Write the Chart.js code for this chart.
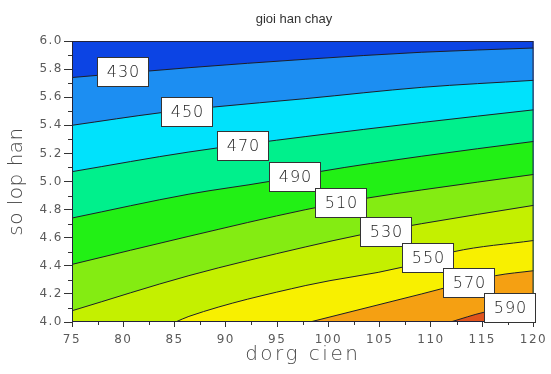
<!DOCTYPE html>
<html>
<head>
<meta charset="utf-8">
<title>gioi han chay</title>
<script src="https://cdn.jsdelivr.net/npm/chart.js@4.4.1/dist/chart.umd.min.js"></script>
<style>
  html, body { margin: 0; padding: 0; background: #fff; }
  #wrap { width: 551px; height: 374px; position: relative; }
</style>
</head>
<body>
<div id="wrap"><canvas id="chart"></canvas></div>
<script>
// ---------- data ----------
const levels = [430, 450, 470, 490, 510, 530, 550, 570, 590];

// contour lines, points as [dong dien, so lop han]
const c430 = [[75, 5.74], [86.4, 5.81], [97.8, 5.87], [109.1, 5.92], [120, 5.95]];
const c450 = [[75, 5.40], [83.7, 5.49], [88.8, 5.53], [97.8, 5.59], [109.1, 5.67], [120, 5.72]];
const c470 = [[75, 5.07], [86.4, 5.21], [97.8, 5.32], [109.1, 5.42], [120, 5.51]];
const c490 = [[75, 4.74], [86.4, 4.91], [94.2, 5.00], [99.1, 5.07], [109.1, 5.18], [120, 5.285]];
const c510 = [[75, 4.41], [86.4, 4.61], [97.8, 4.80], [103.6, 4.88], [109.1, 4.94], [120, 5.05]];
const c530 = [[75, 4.08], [86.4, 4.33], [97.8, 4.535], [103.1, 4.62], [109.1, 4.70], [120, 4.83]];
const c550 = [[85.1, 4.0], [86.4, 4.04], [97.8, 4.26], [107.2, 4.39], [112.2, 4.50], [120, 4.58]];
const c570 = [[98.2, 4.0], [109.1, 4.20], [116.3, 4.33], [120, 4.365]];
const c590 = [[111.9, 4.0], [115.2, 4.07], [120, 4.13]];
const contourLines = [c430, c450, c470, c490, c510, c530, c550, c570, c590];

// where the level labels sit
const labelX = [80.0, 86.2, 91.7, 96.7, 101.2, 105.6, 109.7, 113.7, 117.7];
const labelY = [5.777, 5.493, 5.255, 5.035, 4.846, 4.642, 4.455, 4.277, 4.10];

// minor tick positions
const xMinor = [77.5, 82.5, 87.5, 92.5, 97.5, 102.5, 107.5, 112.5, 117.5];
const yMinor = [4.1, 4.3, 4.5, 4.7, 4.9, 5.1, 5.3, 5.5, 5.7, 5.9];

// ---------- colours ----------
const topColor = '#0c44e4';            // band above 430
const bandColors = [                    // band under each line
  '#1c8ef2', '#00e2fc', '#00f08c', '#22f015', '#84ec12',
  '#c4f000', '#f8f000', '#f5a012', '#e0541c'
];

const datasets = contourLines.map((pts, i) => ({
  label: String(levels[i]),
  data: pts.map(p => ({ x: p[0], y: p[1] })),
  borderColor: '#1e1e28',
  borderWidth: 1,
  backgroundColor: bandColors[i],
  fill: 'start',
  pointRadius: 0,
  cubicInterpolationMode: 'monotone',
  order: contourLines.length - i
}));

// ---------- plugins ----------
const contourDecor = {
  id: 'contourDecor',
  beforeDraw(chart) {
    chart.ctx.letterSpacing = '1.5px';   // wide tick labels like the original
  },
  beforeDatasetsDraw(chart) {
    const { ctx, chartArea: a } = chart;
    ctx.save();
    ctx.fillStyle = topColor;
    ctx.fillRect(a.left, a.top, a.right - a.left, a.bottom - a.top);
    ctx.restore();
  },
  afterDatasetsDraw(chart) {
    const { ctx, chartArea: a, scales: { x, y } } = chart;
    ctx.save();
    ctx.letterSpacing = '0px';

    // frame
    ctx.strokeStyle = '#22223a';
    ctx.lineWidth = 1;
    ctx.strokeRect(a.left + 0.5, a.top + 0.5, a.right - a.left - 1, a.bottom - a.top - 1);

    // minor ticks
    ctx.strokeStyle = '#333';
    ctx.beginPath();
    xMinor.forEach(v => {
      const px = Math.round(x.getPixelForValue(v)) + 0.5;
      ctx.moveTo(px, a.bottom); ctx.lineTo(px, a.bottom + 3);
    });
    yMinor.forEach(v => {
      const py = Math.round(y.getPixelForValue(v)) + 0.5;
      ctx.moveTo(a.left, py); ctx.lineTo(a.left - 4, py);
    });
    ctx.stroke();

    // level labels
    ctx.font = "200 16px 'DejaVu Sans'";
    ctx.textAlign = 'center';
    ctx.textBaseline = 'middle';
    levels.forEach((lv, i) => {
      const cx = Math.round(x.getPixelForValue(labelX[i]));
      const cy = Math.round(y.getPixelForValue(labelY[i]));
      ctx.fillStyle = '#fff';
      ctx.fillRect(cx - 26, cy - 15, 52, 30);
      ctx.strokeStyle = '#333';
      ctx.strokeRect(cx - 25.5, cy - 14.5, 51, 29);
      ctx.fillStyle = '#222';
      ctx.letterSpacing = '1px';
      ctx.fillText(String(lv), cx + 0.5, cy + 1);
    });
    ctx.restore();
  },
  afterDraw(chart) {
    const { ctx, chartArea: a } = chart;
    ctx.save();
    ctx.textAlign = 'center';
    ctx.textBaseline = 'middle';

    // title
    ctx.letterSpacing = '0px';
    ctx.fillStyle = '#333';
    ctx.font = "13px 'Liberation Sans'";
    ctx.fillText('gioi han chay', 294, 19);

    // axis titles
    ctx.fillStyle = '#4a4a4a';
    ctx.font = "200 20px 'DejaVu Sans'";
    ctx.letterSpacing = '2.5px';
    ctx.fillText('dorg cien', (a.left + a.right) / 2, 355);
    ctx.letterSpacing = '0.5px';
    ctx.translate(17, (a.top + a.bottom) / 2);
    ctx.rotate(-Math.PI / 2);
    ctx.fillText('so lop han', 0, 0);
    ctx.restore();
  }
};

// ---------- chart ----------
new Chart(document.getElementById('chart'), {
  type: 'line',
  data: { datasets },
  options: {
    responsive: true,
    maintainAspectRatio: false,
    animation: false,
    layout: { padding: { top: 41, right: 13, left: 0, bottom: 0 } },
    plugins: {
      legend: { display: false },
      tooltip: { enabled: false },
      title: { display: false }
    },
    scales: {
      x: {
        type: 'linear',
        min: 75, max: 120,
        ticks: {
          stepSize: 5,
          padding: 6,
          color: '#5a5a5a',
          font: { family: "'DejaVu Sans'", size: 12 },
          maxRotation: 0
        },
        grid: { drawOnChartArea: false, drawTicks: true, tickLength: 5, color: '#333' },
        border: { display: false },
        afterFit(s) { s.height = 52; }
      },
      y: {
        type: 'linear',
        min: 4, max: 6,
        ticks: {
          stepSize: 0.2,
          padding: 1,
          color: '#5a5a5a',
          font: { family: "'DejaVu Sans'", size: 12 },
          callback: v => Number(v).toFixed(1)
        },
        grid: { drawOnChartArea: false, drawTicks: true, tickLength: 8, color: '#333' },
        border: { display: false },
        afterFit(s) { s.width = 72; }
      }
    }
  },
  plugins: [contourDecor]
});
</script>
</body>
</html>
